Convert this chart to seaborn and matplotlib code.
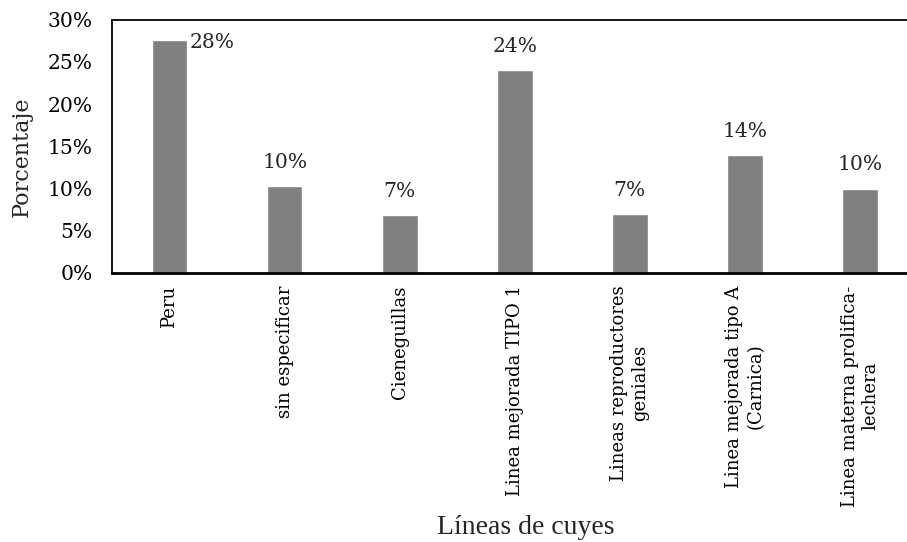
import matplotlib
matplotlib.use("Agg")
import matplotlib.pyplot as plt
import seaborn as sns
import pandas as pd

categories = ["Peru", "sin especificar", "Cieneguillas", "Linea mejorada TIPO 1",
              "Lineas reproductores\ngeniales", "Linea mejorada tipo A\n(Carnica)",
              "Linea materna prolifica-\nlechera"]
values = [27.6, 10.3, 6.9, 24.0, 7.0, 14.0, 10.0]
value_labels = ["28%", "10%", "7%", "24%", "7%", "14%", "10%"]
y_ticks = [0, 5, 10, 15, 20, 25, 30]
y_tick_labels = ["0%", "5%", "10%", "15%", "20%", "25%", "30%"]

sns.set_theme(style="white")
plt.rcParams["font.family"] = ["DejaVu Serif"]

df = pd.DataFrame({"cat": categories, "val": values})

fig = plt.figure(figsize=(9.07, 5.42), dpi=100)
ax = fig.add_axes([112 / 907, 1 - 273 / 542, 805.5 / 907, 253.5 / 542])
sns.barplot(data=df, x="cat", y="val", color="#808080", width=0.31,
            saturation=1, ax=ax)

ax.set_ylim(0, 30)
ax.set_xlim(-0.5, 6.5)
ax.set_yticks(y_ticks)
ax.set_yticklabels(y_tick_labels, fontsize=14.6)
ax.set_xticks(range(len(categories)))
ax.set_xticklabels(categories, rotation=90, fontsize=13, ha="center", va="top",
                   multialignment="center")
ax.tick_params(axis="both", length=0, colors="black")
ax.tick_params(axis="x", pad=9)
ax.tick_params(axis="y", pad=14)

for s in ["left", "top", "bottom"]:
    ax.spines[s].set_color("black")
    ax.spines[s].set_linewidth(1.3)
ax.spines["bottom"].set_linewidth(2)
ax.spines["right"].set_visible(False)

for i, (v, lab) in enumerate(zip(values, value_labels)):
    if i == 0:
        ax.annotate(lab, (i + 0.16, v), xytext=(1, -2), textcoords="offset points",
                    ha="left", va="center", fontsize=14.6)
    else:
        ax.annotate(lab, (i, v), xytext=(0, 13), textcoords="offset points",
                    ha="center", va="baseline", fontsize=14.6)

ax.set_ylabel("Porcentaje", fontsize=16, labelpad=10)
ax.set_xlabel("Líneas de cuyes", fontsize=20, family="Liberation Serif")
ax.xaxis.set_label_coords((526 - 112) / 805.5, -(528 - 273) / 253.5)
ax.xaxis.label.set_va("center")
ax.yaxis.set_label_coords(-(112 - 22) / 805.5, (273 - 157) / 253.5)
ax.yaxis.label.set_va("center")

fig.savefig("out.png", dpi=100)
